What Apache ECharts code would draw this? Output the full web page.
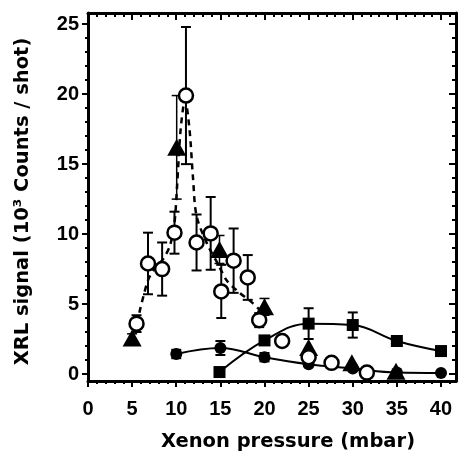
<!DOCTYPE html>
<html><head><meta charset="utf-8">
<script src="https://cdn.jsdelivr.net/npm/echarts@6/dist/echarts.min.js"></script>
<style>html,body{margin:0;padding:0;background:#fff}#c{width:458px;height:454px}</style>
</head><body><div id="c"></div>
<script>
// ---- tick labels ----
const xTicks = [0, 5, 10, 15, 20, 25, 30, 35, 40];
const yTicks = [0, 5, 10, 15, 20, 25];
const xMinor = []; for (let i = 0; i <= 41; i++) xMinor.push(i);
const yMinor = []; for (let i = 0; i <= 25; i++) yMinor.push(i);

// ---- open circles (with error bars) ----
const openX   = [5.5, 6.8, 8.4, 9.8, 11.1, 12.3, 13.9, 15.1, 16.5, 18.1, 19.4, 22.0, 25.0, 27.6, 31.6];
const openY   = [3.6, 7.9, 7.5, 10.1, 19.9, 9.4, 10.05, 5.9, 8.1, 6.9, 3.85, 2.36, 1.2, 0.8, 0.1];
const openErr = [0.6, 2.2, 1.9, 1.5, 4.9, 2.0, 2.6, 1.9, 2.3, 1.6, 0.5, 0, 0.4, 0, 0];

// ---- filled triangles ----
const triX   = [5.0, 10.05, 14.9, 20.0, 25.0, 29.9, 34.9];
const triY   = [2.57, 16.2, 8.9, 4.8, 1.9, 0.8, 0.2];
const triErr = [0.3, 3.7, 1.0, 0.6, 0, 0, 0];

// ---- filled squares (rising curve) ----
const sqX   = [14.9, 20.0, 25.0, 30.0, 35.0, 40.0];
const sqY   = [0.14, 2.4, 3.6, 3.5, 2.36, 1.64];
const sqErr = [0, 0.3, 1.1, 0.9, 0.2, 0.2];

// ---- filled circles (falling curve) ----
const dotX   = [10.0, 15.0, 20.0, 25.0, 30.0, 35.0, 40.0];
const dotY   = [1.43, 1.86, 1.2, 0.7, 0.4, 0.1, 0.07];
const dotErr = [0.3, 0.5, 0.3, 0, 0, 0, 0];

// ---- dashed guide curve ----
const fitX = [5.6, 5.9, 6.3, 6.8, 7.5, 8.5, 9.3, 9.8, 10.1, 10.5, 11.0, 11.5, 11.9, 12.3, 13.5, 14.7, 15.7, 17.0, 18.6, 19.6];
const fitY = [3.6, 4.6, 5.6, 6.7, 7.5, 8.2, 9.2, 10.8, 13.5, 17.5, 19.6, 17.5, 14.0, 11.3, 9.3, 7.9, 6.7, 5.9, 5.1, 4.5];

const zip = (a, b) => a.map((v, i) => [v, b[i]]);
const errData = (xs, ys, es) => xs.map((x, i) => [x, ys[i] - es[i], ys[i] + es[i]]).filter((d, i) => es[i] > 0);

function errSeries(data, lw, cap) {
  return {
    type: 'custom', z: 2, silent: true,
    encode: { x: 0, y: [1, 2] },
    data: data,
    renderItem: function (params, api) {
      const x = api.value(0), lo = api.value(1), hi = api.value(2);
      const p1 = api.coord([x, hi]), p2 = api.coord([x, lo]);
      const st = { stroke: '#000', lineWidth: lw };
      return { type: 'group', children: [
        { type: 'line', shape: { x1: p1[0], y1: p1[1], x2: p2[0], y2: p2[1] }, style: st },
        { type: 'line', shape: { x1: p1[0] - cap, y1: p1[1], x2: p1[0] + cap, y2: p1[1] }, style: st },
        { type: 'line', shape: { x1: p2[0] - cap, y1: p2[1], x2: p2[0] + cap, y2: p2[1] }, style: st }
      ]};
    }
  };
}

const XMIN = 0, XMAX = 41.7, YMIN = -0.5, YMAX = 25.8;
const lblFont = { fontSize: 20, fontWeight: 'bold', fontFamily: 'Liberation Sans', color: '#000' };
const nameFont = { fontSize: 19.5, fontWeight: 'bold', fontFamily: 'DejaVu Sans', color: '#000' };
const axLine = { show: true, onZero: false, lineStyle: { color: '#000', width: 3 } };
const noLine = { show: false, onZero: false };

function ax(pos, values, inside, len, width, withLine, extra) {
  return Object.assign({
    type: 'value', position: pos,
    min: (pos === 'bottom' || pos === 'top') ? XMIN : YMIN,
    max: (pos === 'bottom' || pos === 'top') ? XMAX : YMAX,
    axisLine: withLine ? axLine : noLine,
    axisTick: { show: true, inside: inside, length: len, customValues: values, lineStyle: { color: '#000', width: width } },
    axisLabel: { show: false },
    splitLine: { show: false }
  }, extra || {});
}

const chart = echarts.init(document.getElementById('c'), null, { renderer: 'canvas' });
chart.setOption({
  animation: false,
  backgroundColor: '#fff',
  grid: { left: 88, right: 2, top: 13, bottom: 73, containLabel: false, outerBoundsMode: 'none' },
  xAxis: [
    ax('bottom', xTicks, false, 6, 2, true, {
      axisLabel: Object.assign({ show: true, customValues: xTicks, margin: 18 }, lblFont),
      name: 'Xenon pressure (mbar)', nameLocation: 'middle', nameGap: 51,
      nameTextStyle: Object.assign({ padding: [0, 0, 0, 32] }, nameFont)
    }),
    ax('bottom', xMinor, false, 3, 2, false),
    ax('top', xTicks, true, 7, 2, true),
    ax('top', xMinor, true, 4, 2, false)
  ],
  yAxis: [
    ax('left', yTicks, false, 6, 2, true, {
      axisLabel: Object.assign({ show: true, customValues: yTicks, margin: 9 }, lblFont),
      name: 'XRL signal (10\u00B3 Counts / shot)', nameLocation: 'middle', nameGap: 55,
      nameTextStyle: Object.assign({ padding: [0, 9, 0, 0] }, nameFont)
    }),
    ax('left', yMinor, false, 3, 2, false),
    ax('right', yTicks, true, 7, 2, true),
    ax('right', yMinor, true, 4, 2, false)
  ],
  series: [
    errSeries(errData(openX, openY, openErr), 2, 5),
    errSeries(errData(triX, triY, triErr), 1.5, 5),
    errSeries(errData(sqX, sqY, sqErr), 2, 5),
    errSeries(errData(dotX, dotY, dotErr), 2, 5),
    { type: 'line', z: 3, data: zip(fitX, fitY), smooth: 0.3, symbol: 'none',
      lineStyle: { color: '#000', width: 2.5, type: [6, 5] } },
    { type: 'line', z: 3, data: zip(sqX, sqY), smooth: 0.4, symbol: 'rect', symbolSize: 12,
      itemStyle: { color: '#000' }, lineStyle: { color: '#000', width: 2 } },
    { type: 'line', z: 3, data: zip(dotX, dotY), smooth: 0.4, symbol: 'circle', symbolSize: 12,
      itemStyle: { color: '#000' }, lineStyle: { color: '#000', width: 2 } },
    { type: 'scatter', z: 4, data: zip(triX, triY), symbol: 'triangle', symbolSize: [19, 17],
      itemStyle: { color: '#000', opacity: 1 } },
    { type: 'scatter', z: 5, data: zip(openX, openY), symbol: 'circle', symbolSize: 14,
      itemStyle: { color: '#fff', borderColor: '#000', borderWidth: 2.5, opacity: 1 } }
  ]
});
</script>
</body></html>
